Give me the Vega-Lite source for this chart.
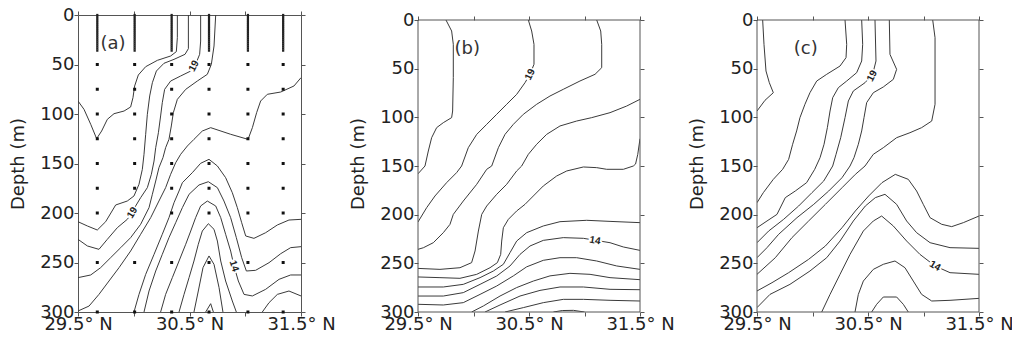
{
"$schema": "https://vega.github.io/schema/vega-lite/v6.json",
"padding": {"left": 9, "top": 5, "right": 2, "bottom": 2},
"spacing": 13,
"config": {
 "view": {"stroke": "#555", "strokeWidth": 1},
 "axis": {"domain": false, "grid": false, "tickColor": "#555", "labelColor": "#222", "titleColor": "#222", "labelFont": "DejaVu Sans", "titleFont": "DejaVu Sans", "labelFontSize": 18, "titleFontSize": 18, "titleFontWeight": "normal"}
},
"datasets": {
 "lines": [
  {"p":"a","i":1,"o":1,"x":29.5,"d":86.9},{"p":"a","i":1,"o":2,"x":29.554,"d":95.3},{"p":"a","i":1,"o":3,"x":29.614,"d":110.4},{"p":"a","i":1,"o":4,"x":29.667,"d":124.9},{"p":"a","i":1,"o":5,"x":29.712,"d":117.2},{"p":"a","i":1,"o":6,"x":29.763,"d":105.4},{"p":"a","i":1,"o":7,"x":29.823,"d":99.7},{"p":"a","i":1,"o":8,"x":29.913,"d":97},{"p":"a","i":1,"o":9,"x":29.972,"d":92.9},{"p":"a","i":1,"o":10,"x":29.993,"d":83.5},{"p":"a","i":1,"o":11,"x":30.008,"d":71.7},{"p":"a","i":1,"o":12,"x":30.041,"d":60.6},{"p":"a","i":1,"o":13,"x":30.107,"d":52.2},{"p":"a","i":1,"o":14,"x":30.212,"d":45.8},{"p":"a","i":1,"o":15,"x":30.331,"d":41.4},{"p":"a","i":1,"o":16,"x":30.382,"d":37},{"p":"a","i":1,"o":17,"x":30.391,"d":22.9},{"p":"a","i":1,"o":18,"x":30.391,"d":0},
  {"p":"a","i":2,"o":1,"x":29.5,"d":208.8},{"p":"a","i":2,"o":2,"x":29.584,"d":213.1},{"p":"a","i":2,"o":3,"x":29.673,"d":217.2},{"p":"a","i":2,"o":4,"x":29.748,"d":208.8},{"p":"a","i":2,"o":5,"x":29.838,"d":191.9},{"p":"a","i":2,"o":6,"x":29.942,"d":187.9},{"p":"a","i":2,"o":7,"x":30.002,"d":182.8},{"p":"a","i":2,"o":8,"x":30.047,"d":171},{"p":"a","i":2,"o":9,"x":30.077,"d":155.9},{"p":"a","i":2,"o":10,"x":30.092,"d":140.7},{"p":"a","i":2,"o":11,"x":30.107,"d":120.5},{"p":"a","i":2,"o":12,"x":30.122,"d":100.3},{"p":"a","i":2,"o":13,"x":30.143,"d":81.8},{"p":"a","i":2,"o":14,"x":30.167,"d":68.4},{"p":"a","i":2,"o":15,"x":30.203,"d":56.6},{"p":"a","i":2,"o":16,"x":30.271,"d":48.8},{"p":"a","i":2,"o":17,"x":30.361,"d":44.8},{"p":"a","i":2,"o":18,"x":30.46,"d":39.7},{"p":"a","i":2,"o":19,"x":30.49,"d":34},{"p":"a","i":2,"o":20,"x":30.49,"d":0},
  {"p":"a","i":3,"o":1,"x":29.5,"d":226.6},{"p":"a","i":3,"o":2,"x":29.584,"d":233.3},{"p":"a","i":3,"o":3,"x":29.688,"d":236.7},{"p":"a","i":3,"o":4,"x":29.763,"d":226.6},{"p":"a","i":3,"o":5,"x":29.853,"d":214.8},{"p":"a","i":3,"o":6,"x":29.942,"d":206.4},{"p":"a","i":3,"o":7,"x":29.987,"d":199.7},{"p":"a","i":3,"o":8,"x":30.017,"d":192.9},{"p":"a","i":3,"o":9,"x":30.062,"d":184.5},{"p":"a","i":3,"o":10,"x":30.122,"d":174.4},{"p":"a","i":3,"o":11,"x":30.158,"d":160.9},{"p":"a","i":3,"o":12,"x":30.182,"d":147.5},{"p":"a","i":3,"o":13,"x":30.197,"d":134},{"p":"a","i":3,"o":14,"x":30.221,"d":118.9},{"p":"a","i":3,"o":15,"x":30.241,"d":102},{"p":"a","i":3,"o":16,"x":30.256,"d":88.6},{"p":"a","i":3,"o":17,"x":30.277,"d":75.1},{"p":"a","i":3,"o":18,"x":30.331,"d":66.7},{"p":"a","i":3,"o":19,"x":30.421,"d":61.6},{"p":"a","i":3,"o":20,"x":30.511,"d":56.6},{"p":"a","i":3,"o":21,"x":30.555,"d":49.8},{"p":"a","i":3,"o":22,"x":30.591,"d":39.7},{"p":"a","i":3,"o":23,"x":30.6,"d":26.3},{"p":"a","i":3,"o":24,"x":30.6,"d":0},
  {"p":"a","i":4,"o":1,"x":29.5,"d":265.3},{"p":"a","i":4,"o":2,"x":29.614,"d":262.6},{"p":"a","i":4,"o":3,"x":29.703,"d":255.2},{"p":"a","i":4,"o":4,"x":29.793,"d":245.1},{"p":"a","i":4,"o":5,"x":29.883,"d":235},{"p":"a","i":4,"o":6,"x":29.972,"d":224.9},{"p":"a","i":4,"o":7,"x":30.062,"d":211.4},{"p":"a","i":4,"o":8,"x":30.137,"d":194.6},{"p":"a","i":4,"o":9,"x":30.167,"d":181.1},{"p":"a","i":4,"o":10,"x":30.197,"d":167.7},{"p":"a","i":4,"o":11,"x":30.226,"d":154.2},{"p":"a","i":4,"o":12,"x":30.262,"d":144.1},{"p":"a","i":4,"o":13,"x":30.286,"d":134},{"p":"a","i":4,"o":14,"x":30.316,"d":125.6},{"p":"a","i":4,"o":15,"x":30.337,"d":112.1},{"p":"a","i":4,"o":16,"x":30.355,"d":98.7},{"p":"a","i":4,"o":17,"x":30.391,"d":85.2},{"p":"a","i":4,"o":18,"x":30.466,"d":75.1},{"p":"a","i":4,"o":19,"x":30.57,"d":66.7},{"p":"a","i":4,"o":20,"x":30.66,"d":59.9},{"p":"a","i":4,"o":21,"x":30.696,"d":49.8},{"p":"a","i":4,"o":22,"x":30.72,"d":31.3},{"p":"a","i":4,"o":23,"x":30.735,"d":0},
  {"p":"a","i":5,"o":1,"x":31.5,"d":63.3},{"p":"a","i":5,"o":2,"x":31.437,"d":71.7},{"p":"a","i":5,"o":3,"x":31.318,"d":77.8},{"p":"a","i":5,"o":4,"x":31.198,"d":80.1},{"p":"a","i":5,"o":5,"x":31.138,"d":86.9},{"p":"a","i":5,"o":6,"x":31.102,"d":98.7},{"p":"a","i":5,"o":7,"x":31.064,"d":113.8},{"p":"a","i":5,"o":8,"x":31.025,"d":125.6},{"p":"a","i":5,"o":9,"x":30.869,"d":120.5},{"p":"a","i":5,"o":10,"x":30.69,"d":113.8},{"p":"a","i":5,"o":11,"x":30.615,"d":117.2},{"p":"a","i":5,"o":12,"x":30.54,"d":125.6},{"p":"a","i":5,"o":13,"x":30.481,"d":132.3},{"p":"a","i":5,"o":14,"x":30.421,"d":140.7},{"p":"a","i":5,"o":15,"x":30.376,"d":149.2},{"p":"a","i":5,"o":16,"x":30.331,"d":160.9},{"p":"a","i":5,"o":17,"x":30.286,"d":174.4},{"p":"a","i":5,"o":18,"x":30.226,"d":187.9},{"p":"a","i":5,"o":19,"x":30.152,"d":204.7},{"p":"a","i":5,"o":20,"x":30.062,"d":221.5},{"p":"a","i":5,"o":21,"x":29.972,"d":238.4},{"p":"a","i":5,"o":22,"x":29.868,"d":255.2},{"p":"a","i":5,"o":23,"x":29.778,"d":268.7},{"p":"a","i":5,"o":24,"x":29.688,"d":282.2},{"p":"a","i":5,"o":25,"x":29.599,"d":294},{"p":"a","i":5,"o":26,"x":29.5,"d":299},
  {"p":"a","i":6,"o":1,"x":30.002,"d":300},{"p":"a","i":6,"o":2,"x":30.047,"d":282.2},{"p":"a","i":6,"o":3,"x":30.107,"d":262},{"p":"a","i":6,"o":4,"x":30.182,"d":241.8},{"p":"a","i":6,"o":5,"x":30.256,"d":221.5},{"p":"a","i":6,"o":6,"x":30.316,"d":204.7},{"p":"a","i":6,"o":7,"x":30.361,"d":189.6},{"p":"a","i":6,"o":8,"x":30.406,"d":177.8},{"p":"a","i":6,"o":9,"x":30.436,"d":169.4},{"p":"a","i":6,"o":10,"x":30.525,"d":159.3},{"p":"a","i":6,"o":11,"x":30.6,"d":149.8},{"p":"a","i":6,"o":12,"x":30.675,"d":145.8},{"p":"a","i":6,"o":13,"x":30.75,"d":152.5},{"p":"a","i":6,"o":14,"x":30.824,"d":164.3},{"p":"a","i":6,"o":15,"x":30.884,"d":179.5},{"p":"a","i":6,"o":16,"x":30.929,"d":194.6},{"p":"a","i":6,"o":17,"x":30.968,"d":209.8},{"p":"a","i":6,"o":18,"x":31.004,"d":223.2},{"p":"a","i":6,"o":19,"x":31.078,"d":225.6},{"p":"a","i":6,"o":20,"x":31.183,"d":219.9},{"p":"a","i":6,"o":21,"x":31.288,"d":212.1},{"p":"a","i":6,"o":22,"x":31.392,"d":207.1},{"p":"a","i":6,"o":23,"x":31.5,"d":206.4},
  {"p":"a","i":7,"o":1,"x":30.092,"d":300},{"p":"a","i":7,"o":2,"x":30.137,"d":278.8},{"p":"a","i":7,"o":3,"x":30.197,"d":258.6},{"p":"a","i":7,"o":4,"x":30.256,"d":241.8},{"p":"a","i":7,"o":5,"x":30.316,"d":224.9},{"p":"a","i":7,"o":6,"x":30.376,"d":209.8},{"p":"a","i":7,"o":7,"x":30.436,"d":194.6},{"p":"a","i":7,"o":8,"x":30.496,"d":181.1},{"p":"a","i":7,"o":9,"x":30.585,"d":171.7},{"p":"a","i":7,"o":10,"x":30.669,"d":168.4},{"p":"a","i":7,"o":11,"x":30.75,"d":174.4},{"p":"a","i":7,"o":12,"x":30.809,"d":187.9},{"p":"a","i":7,"o":13,"x":30.869,"d":204.7},{"p":"a","i":7,"o":14,"x":30.92,"d":224.9},{"p":"a","i":7,"o":15,"x":30.968,"d":245.1},{"p":"a","i":7,"o":16,"x":31.01,"d":258.6},{"p":"a","i":7,"o":17,"x":31.093,"d":257.9},{"p":"a","i":7,"o":18,"x":31.213,"d":250.2},{"p":"a","i":7,"o":19,"x":31.318,"d":241.1},{"p":"a","i":7,"o":20,"x":31.407,"d":235},{"p":"a","i":7,"o":21,"x":31.5,"d":234},
  {"p":"a","i":8,"o":1,"x":30.241,"d":300},{"p":"a","i":8,"o":2,"x":30.286,"d":282.2},{"p":"a","i":8,"o":3,"x":30.346,"d":265.3},{"p":"a","i":8,"o":4,"x":30.406,"d":248.5},{"p":"a","i":8,"o":5,"x":30.466,"d":231.6},{"p":"a","i":8,"o":6,"x":30.511,"d":218.2},{"p":"a","i":8,"o":7,"x":30.555,"d":204.7},{"p":"a","i":8,"o":8,"x":30.6,"d":192.9},{"p":"a","i":8,"o":9,"x":30.66,"d":187.9},{"p":"a","i":8,"o":10,"x":30.735,"d":192.9},{"p":"a","i":8,"o":11,"x":30.78,"d":204.7},{"p":"a","i":8,"o":12,"x":30.824,"d":221.5},{"p":"a","i":8,"o":13,"x":30.869,"d":238.4},{"p":"a","i":8,"o":14,"x":30.899,"d":253.5},{"p":"a","i":8,"o":15,"x":30.938,"d":268.7},{"p":"a","i":8,"o":16,"x":30.989,"d":282.2},{"p":"a","i":8,"o":17,"x":31.064,"d":283.8},{"p":"a","i":8,"o":18,"x":31.183,"d":277.1},{"p":"a","i":8,"o":19,"x":31.303,"d":267},{"p":"a","i":8,"o":20,"x":31.407,"d":262.6},{"p":"a","i":8,"o":21,"x":31.5,"d":262.6},
  {"p":"a","i":9,"o":1,"x":30.406,"d":300},{"p":"a","i":9,"o":2,"x":30.451,"d":282.2},{"p":"a","i":9,"o":3,"x":30.496,"d":265.3},{"p":"a","i":9,"o":4,"x":30.54,"d":248.5},{"p":"a","i":9,"o":5,"x":30.579,"d":231.6},{"p":"a","i":9,"o":6,"x":30.615,"d":218.2},{"p":"a","i":9,"o":7,"x":30.669,"d":210.8},{"p":"a","i":9,"o":8,"x":30.72,"d":216.5},{"p":"a","i":9,"o":9,"x":30.75,"d":228.3},{"p":"a","i":9,"o":10,"x":30.78,"d":248.5},{"p":"a","i":9,"o":11,"x":30.824,"d":268.7},{"p":"a","i":9,"o":12,"x":30.884,"d":288.9},{"p":"a","i":9,"o":13,"x":30.92,"d":300},
  {"p":"a","i":10,"o":1,"x":30.54,"d":300},{"p":"a","i":10,"o":2,"x":30.579,"d":278.8},{"p":"a","i":10,"o":3,"x":30.621,"d":255.2},{"p":"a","i":10,"o":4,"x":30.675,"d":243.4},{"p":"a","i":10,"o":5,"x":30.72,"d":251.9},{"p":"a","i":10,"o":6,"x":30.765,"d":275.4},{"p":"a","i":10,"o":7,"x":30.8,"d":300},
  {"p":"a","i":11,"o":1,"x":30.645,"d":300},{"p":"a","i":11,"o":2,"x":30.69,"d":291.6},{"p":"a","i":11,"o":3,"x":30.714,"d":300},
  {"p":"a","i":12,"o":1,"x":31.153,"d":300},{"p":"a","i":12,"o":2,"x":31.213,"d":290.6},{"p":"a","i":12,"o":3,"x":31.288,"d":282.2},{"p":"a","i":12,"o":4,"x":31.392,"d":278.8},{"p":"a","i":12,"o":5,"x":31.5,"d":283.8},

  {"p":"b","i":1,"o":1,"x":29.752,"d":0},{"p":"b","i":1,"o":2,"x":29.803,"d":11.3},{"p":"b","i":1,"o":3,"x":29.818,"d":25},{"p":"b","i":1,"o":4,"x":29.818,"d":59.2},{"p":"b","i":1,"o":5,"x":29.812,"d":93.5},{"p":"b","i":1,"o":6,"x":29.803,"d":100.3},{"p":"b","i":1,"o":7,"x":29.728,"d":105.5},{"p":"b","i":1,"o":8,"x":29.668,"d":110.6},{"p":"b","i":1,"o":9,"x":29.623,"d":120.9},{"p":"b","i":1,"o":10,"x":29.593,"d":134.6},{"p":"b","i":1,"o":11,"x":29.563,"d":150},{"p":"b","i":1,"o":12,"x":29.5,"d":158},
  {"p":"b","i":2,"o":1,"x":30.494,"d":0},{"p":"b","i":2,"o":2,"x":30.524,"d":11.3},{"p":"b","i":2,"o":3,"x":30.545,"d":25},{"p":"b","i":2,"o":4,"x":30.545,"d":45.5},{"p":"b","i":2,"o":5,"x":30.509,"d":55.8},{"p":"b","i":2,"o":6,"x":30.464,"d":64.4},{"p":"b","i":2,"o":7,"x":30.389,"d":76.4},{"p":"b","i":2,"o":8,"x":30.299,"d":86.6},{"p":"b","i":2,"o":9,"x":30.209,"d":96.9},{"p":"b","i":2,"o":10,"x":30.119,"d":107.2},{"p":"b","i":2,"o":11,"x":30.029,"d":117.5},{"p":"b","i":2,"o":12,"x":29.953,"d":131.2},{"p":"b","i":2,"o":13,"x":29.893,"d":150},{"p":"b","i":2,"o":14,"x":29.848,"d":156.8},{"p":"b","i":2,"o":15,"x":29.758,"d":167.1},{"p":"b","i":2,"o":16,"x":29.653,"d":180.8},{"p":"b","i":2,"o":17,"x":29.578,"d":192.8},{"p":"b","i":2,"o":18,"x":29.5,"d":207.5},
  {"p":"b","i":3,"o":1,"x":31.11,"d":0},{"p":"b","i":3,"o":2,"x":31.146,"d":11.3},{"p":"b","i":3,"o":3,"x":31.155,"d":25},{"p":"b","i":3,"o":4,"x":31.155,"d":49},{"p":"b","i":3,"o":5,"x":31.095,"d":55.8},{"p":"b","i":3,"o":6,"x":30.959,"d":62.7},{"p":"b","i":3,"o":7,"x":30.809,"d":71.2},{"p":"b","i":3,"o":8,"x":30.689,"d":78.1},{"p":"b","i":3,"o":9,"x":30.569,"d":86.6},{"p":"b","i":3,"o":10,"x":30.449,"d":96.9},{"p":"b","i":3,"o":11,"x":30.359,"d":107.2},{"p":"b","i":3,"o":12,"x":30.284,"d":117.5},{"p":"b","i":3,"o":13,"x":30.224,"d":131.2},{"p":"b","i":3,"o":14,"x":30.164,"d":150},{"p":"b","i":3,"o":15,"x":30.119,"d":153.4},{"p":"b","i":3,"o":16,"x":30.029,"d":168.8},{"p":"b","i":3,"o":17,"x":29.908,"d":186},{"p":"b","i":3,"o":18,"x":29.818,"d":199.7},{"p":"b","i":3,"o":19,"x":29.788,"d":210},{"p":"b","i":3,"o":20,"x":29.728,"d":218.5},{"p":"b","i":3,"o":21,"x":29.638,"d":228.8},{"p":"b","i":3,"o":22,"x":29.548,"d":234},{"p":"b","i":3,"o":23,"x":29.5,"d":235.6},
  {"p":"b","i":4,"o":1,"x":31.5,"d":81.5},{"p":"b","i":4,"o":2,"x":31.38,"d":88.4},{"p":"b","i":4,"o":3,"x":31.23,"d":95.2},{"p":"b","i":4,"o":4,"x":31.065,"d":100.3},{"p":"b","i":4,"o":5,"x":30.929,"d":103.8},{"p":"b","i":4,"o":6,"x":30.779,"d":108.9},{"p":"b","i":4,"o":7,"x":30.659,"d":117.5},{"p":"b","i":4,"o":8,"x":30.569,"d":127.7},{"p":"b","i":4,"o":9,"x":30.494,"d":138},{"p":"b","i":4,"o":10,"x":30.434,"d":150},{"p":"b","i":4,"o":11,"x":30.389,"d":155.1},{"p":"b","i":4,"o":12,"x":30.299,"d":168.8},{"p":"b","i":4,"o":13,"x":30.209,"d":179.1},{"p":"b","i":4,"o":14,"x":30.119,"d":191.1},{"p":"b","i":4,"o":15,"x":30.074,"d":199.7},{"p":"b","i":4,"o":16,"x":30.044,"d":216.8},{"p":"b","i":4,"o":17,"x":30.014,"d":237.3},{"p":"b","i":4,"o":18,"x":29.983,"d":249.3},{"p":"b","i":4,"o":19,"x":29.878,"d":254.5},{"p":"b","i":4,"o":20,"x":29.698,"d":256.2},{"p":"b","i":4,"o":21,"x":29.5,"d":255.2},
  {"p":"b","i":5,"o":1,"x":31.5,"d":122},{"p":"b","i":5,"o":2,"x":31.48,"d":138},{"p":"b","i":5,"o":3,"x":31.46,"d":148},{"p":"b","i":5,"o":4,"x":31.44,"d":150},{"p":"b","i":5,"o":5,"x":31.35,"d":153.4},{"p":"b","i":5,"o":6,"x":31.2,"d":153.4},{"p":"b","i":5,"o":7,"x":31.11,"d":151.7},{"p":"b","i":5,"o":8,"x":30.99,"d":151},{"p":"b","i":5,"o":9,"x":30.84,"d":155.1},{"p":"b","i":5,"o":10,"x":30.749,"d":160.3},{"p":"b","i":5,"o":11,"x":30.629,"d":170.5},{"p":"b","i":5,"o":12,"x":30.539,"d":180.8},{"p":"b","i":5,"o":13,"x":30.464,"d":189.4},{"p":"b","i":5,"o":14,"x":30.389,"d":196.2},{"p":"b","i":5,"o":15,"x":30.314,"d":204.8},{"p":"b","i":5,"o":16,"x":30.269,"d":213.4},{"p":"b","i":5,"o":17,"x":30.254,"d":227.1},{"p":"b","i":5,"o":18,"x":30.245,"d":240.8},{"p":"b","i":5,"o":19,"x":30.215,"d":249.3},{"p":"b","i":5,"o":20,"x":30.149,"d":254.5},{"p":"b","i":5,"o":21,"x":30.029,"d":261.3},{"p":"b","i":5,"o":22,"x":29.878,"d":265.4},{"p":"b","i":5,"o":23,"x":29.698,"d":264.7},{"p":"b","i":5,"o":24,"x":29.5,"d":264},
  {"p":"b","i":6,"o":1,"x":29.5,"d":274.3},{"p":"b","i":6,"o":2,"x":29.728,"d":274.3},{"p":"b","i":6,"o":3,"x":29.908,"d":271.6},{"p":"b","i":6,"o":4,"x":30.059,"d":264.7},{"p":"b","i":6,"o":5,"x":30.179,"d":257.9},{"p":"b","i":6,"o":6,"x":30.269,"d":251},{"p":"b","i":6,"o":7,"x":30.329,"d":239},{"p":"b","i":6,"o":8,"x":30.389,"d":227.1},{"p":"b","i":6,"o":9,"x":30.479,"d":218.5},{"p":"b","i":6,"o":10,"x":30.629,"d":211.6},{"p":"b","i":6,"o":11,"x":30.779,"d":207.2},{"p":"b","i":6,"o":12,"x":31.02,"d":205.8},{"p":"b","i":6,"o":13,"x":31.23,"d":206.9},{"p":"b","i":6,"o":14,"x":31.5,"d":208.2},
  {"p":"b","i":7,"o":1,"x":29.5,"d":283.6},{"p":"b","i":7,"o":2,"x":29.728,"d":283.6},{"p":"b","i":7,"o":3,"x":29.908,"d":280.1},{"p":"b","i":7,"o":4,"x":30.059,"d":271.6},{"p":"b","i":7,"o":5,"x":30.209,"d":263},{"p":"b","i":7,"o":6,"x":30.329,"d":252.7},{"p":"b","i":7,"o":7,"x":30.419,"d":240.8},{"p":"b","i":7,"o":8,"x":30.509,"d":232.2},{"p":"b","i":7,"o":9,"x":30.629,"d":226.4},{"p":"b","i":7,"o":10,"x":30.809,"d":223.6},{"p":"b","i":7,"o":11,"x":30.99,"d":224.3},{"p":"b","i":7,"o":12,"x":31.23,"d":228.8},{"p":"b","i":7,"o":13,"x":31.35,"d":233.2},{"p":"b","i":7,"o":14,"x":31.5,"d":236.7},
  {"p":"b","i":8,"o":1,"x":29.5,"d":292.1},{"p":"b","i":8,"o":2,"x":29.728,"d":292.8},{"p":"b","i":8,"o":3,"x":29.908,"d":290.4},{"p":"b","i":8,"o":4,"x":30.059,"d":281.9},{"p":"b","i":8,"o":5,"x":30.209,"d":273.3},{"p":"b","i":8,"o":6,"x":30.359,"d":262.9},{"p":"b","i":8,"o":7,"x":30.479,"d":253.6},{"p":"b","i":8,"o":8,"x":30.629,"d":246.9},{"p":"b","i":8,"o":9,"x":30.779,"d":244.2},{"p":"b","i":8,"o":10,"x":30.929,"d":244.2},{"p":"b","i":8,"o":11,"x":31.11,"d":247.6},{"p":"b","i":8,"o":12,"x":31.29,"d":252.7},{"p":"b","i":8,"o":13,"x":31.5,"d":256.2},
  {"p":"b","i":9,"o":1,"x":29.983,"d":300},{"p":"b","i":9,"o":2,"x":30.089,"d":293.8},{"p":"b","i":9,"o":3,"x":30.239,"d":283.6},{"p":"b","i":9,"o":4,"x":30.389,"d":274.9},{"p":"b","i":9,"o":5,"x":30.539,"d":268.2},{"p":"b","i":9,"o":6,"x":30.689,"d":262.9},{"p":"b","i":9,"o":7,"x":30.869,"d":260.3},{"p":"b","i":9,"o":8,"x":31.05,"d":261.3},{"p":"b","i":9,"o":9,"x":31.23,"d":264.7},{"p":"b","i":9,"o":10,"x":31.5,"d":266.8},
  {"p":"b","i":10,"o":1,"x":30.104,"d":300},{"p":"b","i":10,"o":2,"x":30.239,"d":292.8},{"p":"b","i":10,"o":3,"x":30.419,"d":283.6},{"p":"b","i":10,"o":4,"x":30.599,"d":277.8},{"p":"b","i":10,"o":5,"x":30.779,"d":274.3},{"p":"b","i":10,"o":6,"x":30.99,"d":274.3},{"p":"b","i":10,"o":7,"x":31.23,"d":276.7},{"p":"b","i":10,"o":8,"x":31.5,"d":277.1},
  {"p":"b","i":11,"o":1,"x":30.284,"d":300},{"p":"b","i":11,"o":2,"x":30.449,"d":295.5},{"p":"b","i":11,"o":3,"x":30.629,"d":290.4},{"p":"b","i":11,"o":4,"x":30.809,"d":287},{"p":"b","i":11,"o":5,"x":30.99,"d":287},{"p":"b","i":11,"o":6,"x":31.23,"d":288},{"p":"b","i":11,"o":7,"x":31.5,"d":288.7},
  {"p":"b","i":12,"o":1,"x":30.72,"d":300},{"p":"b","i":12,"o":2,"x":30.8,"d":298.5},{"p":"b","i":12,"o":3,"x":30.9,"d":298.3},{"p":"b","i":12,"o":4,"x":31.0,"d":300},

  {"p":"c","i":1,"o":1,"x":29.551,"d":0},{"p":"c","i":1,"o":2,"x":29.563,"d":25},{"p":"c","i":1,"o":3,"x":29.581,"d":52.4},{"p":"c","i":1,"o":4,"x":29.611,"d":64.4},{"p":"c","i":1,"o":5,"x":29.647,"d":74.7},{"p":"c","i":1,"o":6,"x":29.572,"d":82.5},{"p":"c","i":1,"o":7,"x":29.5,"d":93.5},
  {"p":"c","i":2,"o":1,"x":30.293,"d":0},{"p":"c","i":2,"o":2,"x":30.308,"d":25},{"p":"c","i":2,"o":3,"x":30.302,"d":38.7},{"p":"c","i":2,"o":4,"x":30.248,"d":47.3},{"p":"c","i":2,"o":5,"x":30.128,"d":55.8},{"p":"c","i":2,"o":6,"x":30.038,"d":62.7},{"p":"c","i":2,"o":7,"x":29.977,"d":74.7},{"p":"c","i":2,"o":8,"x":29.932,"d":86.6},{"p":"c","i":2,"o":9,"x":29.887,"d":100.3},{"p":"c","i":2,"o":10,"x":29.857,"d":114},{"p":"c","i":2,"o":11,"x":29.821,"d":127.7},{"p":"c","i":2,"o":12,"x":29.785,"d":143.2},{"p":"c","i":2,"o":13,"x":29.731,"d":153.4},{"p":"c","i":2,"o":14,"x":29.647,"d":163.7},{"p":"c","i":2,"o":15,"x":29.557,"d":177.4},{"p":"c","i":2,"o":16,"x":29.5,"d":187.7},
  {"p":"c","i":3,"o":1,"x":30.443,"d":0},{"p":"c","i":3,"o":2,"x":30.452,"d":25},{"p":"c","i":3,"o":3,"x":30.443,"d":42.1},{"p":"c","i":3,"o":4,"x":30.398,"d":54.1},{"p":"c","i":3,"o":5,"x":30.308,"d":62.7},{"p":"c","i":3,"o":6,"x":30.233,"d":69.5},{"p":"c","i":3,"o":7,"x":30.182,"d":79.8},{"p":"c","i":3,"o":8,"x":30.158,"d":93.5},{"p":"c","i":3,"o":9,"x":30.134,"d":110.6},{"p":"c","i":3,"o":10,"x":30.104,"d":127.7},{"p":"c","i":3,"o":11,"x":30.068,"d":141.4},{"p":"c","i":3,"o":12,"x":30.02,"d":153.4},{"p":"c","i":3,"o":13,"x":29.947,"d":167.1},{"p":"c","i":3,"o":14,"x":29.845,"d":175.7},{"p":"c","i":3,"o":15,"x":29.755,"d":182.5},{"p":"c","i":3,"o":16,"x":29.68,"d":199.7},{"p":"c","i":3,"o":17,"x":29.59,"d":206.5},{"p":"c","i":3,"o":18,"x":29.5,"d":213.4},
  {"p":"c","i":4,"o":1,"x":30.563,"d":0},{"p":"c","i":4,"o":2,"x":30.572,"d":42.1},{"p":"c","i":4,"o":3,"x":30.542,"d":55.8},{"p":"c","i":4,"o":4,"x":30.473,"d":64.4},{"p":"c","i":4,"o":5,"x":30.368,"d":72.9},{"p":"c","i":4,"o":6,"x":30.323,"d":83.2},{"p":"c","i":4,"o":7,"x":30.293,"d":100.3},{"p":"c","i":4,"o":8,"x":30.254,"d":120.9},{"p":"c","i":4,"o":9,"x":30.212,"d":138},{"p":"c","i":4,"o":10,"x":30.182,"d":150},{"p":"c","i":4,"o":11,"x":30.101,"d":165.4},{"p":"c","i":4,"o":12,"x":29.995,"d":177.4},{"p":"c","i":4,"o":13,"x":29.875,"d":191.1},{"p":"c","i":4,"o":14,"x":29.74,"d":204.8},{"p":"c","i":4,"o":15,"x":29.605,"d":216.8},{"p":"c","i":4,"o":16,"x":29.5,"d":228.8},
  {"p":"c","i":5,"o":1,"x":30.692,"d":0},{"p":"c","i":5,"o":2,"x":30.698,"d":35.3},{"p":"c","i":5,"o":3,"x":30.758,"d":50.7},{"p":"c","i":5,"o":4,"x":30.728,"d":61},{"p":"c","i":5,"o":5,"x":30.638,"d":68.8},{"p":"c","i":5,"o":6,"x":30.548,"d":74.7},{"p":"c","i":5,"o":7,"x":30.488,"d":84.9},{"p":"c","i":5,"o":8,"x":30.464,"d":100.3},{"p":"c","i":5,"o":9,"x":30.443,"d":114},{"p":"c","i":5,"o":10,"x":30.413,"d":127.7},{"p":"c","i":5,"o":11,"x":30.374,"d":141.4},{"p":"c","i":5,"o":12,"x":30.338,"d":150},{"p":"c","i":5,"o":13,"x":30.266,"d":162},{"p":"c","i":5,"o":14,"x":30.146,"d":175.7},{"p":"c","i":5,"o":15,"x":30.011,"d":189.4},{"p":"c","i":5,"o":16,"x":29.86,"d":203.1},{"p":"c","i":5,"o":17,"x":29.695,"d":220.2},{"p":"c","i":5,"o":18,"x":29.59,"d":233.9},{"p":"c","i":5,"o":19,"x":29.5,"d":244.2},
  {"p":"c","i":6,"o":1,"x":31.083,"d":0},{"p":"c","i":6,"o":2,"x":31.104,"d":18.2},{"p":"c","i":6,"o":3,"x":31.104,"d":86.6},{"p":"c","i":6,"o":4,"x":31.074,"d":103.8},{"p":"c","i":6,"o":5,"x":30.983,"d":110.6},{"p":"c","i":6,"o":6,"x":30.878,"d":115.8},{"p":"c","i":6,"o":7,"x":30.758,"d":120.9},{"p":"c","i":6,"o":8,"x":30.638,"d":131.2},{"p":"c","i":6,"o":9,"x":30.548,"d":138},{"p":"c","i":6,"o":10,"x":30.473,"d":150},{"p":"c","i":6,"o":11,"x":30.386,"d":158.6},{"p":"c","i":6,"o":12,"x":30.266,"d":172.3},{"p":"c","i":6,"o":13,"x":30.116,"d":189.4},{"p":"c","i":6,"o":14,"x":29.965,"d":206.5},{"p":"c","i":6,"o":15,"x":29.815,"d":223.6},{"p":"c","i":6,"o":16,"x":29.665,"d":244.2},{"p":"c","i":6,"o":17,"x":29.5,"d":261.3},
  {"p":"c","i":7,"o":1,"x":29.5,"d":278.4},{"p":"c","i":7,"o":2,"x":29.635,"d":269.9},{"p":"c","i":7,"o":3,"x":29.785,"d":259.6},{"p":"c","i":7,"o":4,"x":29.965,"d":245.9},{"p":"c","i":7,"o":5,"x":30.116,"d":232.2},{"p":"c","i":7,"o":6,"x":30.266,"d":213.4},{"p":"c","i":7,"o":7,"x":30.386,"d":196.2},{"p":"c","i":7,"o":8,"x":30.506,"d":180.8},{"p":"c","i":7,"o":9,"x":30.626,"d":167.1},{"p":"c","i":7,"o":10,"x":30.746,"d":158.6},{"p":"c","i":7,"o":11,"x":30.863,"d":163.7},{"p":"c","i":7,"o":12,"x":30.938,"d":175.7},{"p":"c","i":7,"o":13,"x":30.998,"d":189.4},{"p":"c","i":7,"o":14,"x":31.059,"d":203.1},{"p":"c","i":7,"o":15,"x":31.164,"d":209.9},{"p":"c","i":7,"o":16,"x":31.254,"d":212.3},{"p":"c","i":7,"o":17,"x":31.359,"d":208.2},{"p":"c","i":7,"o":18,"x":31.5,"d":201.4},
  {"p":"c","i":8,"o":1,"x":29.5,"d":295.5},{"p":"c","i":8,"o":2,"x":29.617,"d":281.9},{"p":"c","i":8,"o":3,"x":29.797,"d":271.6},{"p":"c","i":8,"o":4,"x":29.977,"d":257.9},{"p":"c","i":8,"o":5,"x":30.128,"d":244.2},{"p":"c","i":8,"o":6,"x":30.248,"d":227.1},{"p":"c","i":8,"o":7,"x":30.368,"d":206.5},{"p":"c","i":8,"o":8,"x":30.476,"d":191.1},{"p":"c","i":8,"o":9,"x":30.566,"d":182.5},{"p":"c","i":8,"o":10,"x":30.653,"d":179.1},{"p":"c","i":8,"o":11,"x":30.758,"d":189.4},{"p":"c","i":8,"o":12,"x":30.848,"d":206.5},{"p":"c","i":8,"o":13,"x":30.938,"d":218.5},{"p":"c","i":8,"o":14,"x":31.059,"d":228.8},{"p":"c","i":8,"o":15,"x":31.239,"d":233.9},{"p":"c","i":8,"o":16,"x":31.5,"d":234.6},
  {"p":"c","i":9,"o":1,"x":30.083,"d":300},{"p":"c","i":9,"o":2,"x":30.158,"d":281.9},{"p":"c","i":9,"o":3,"x":30.248,"d":261.3},{"p":"c","i":9,"o":4,"x":30.338,"d":240.8},{"p":"c","i":9,"o":5,"x":30.458,"d":216.8},{"p":"c","i":9,"o":6,"x":30.548,"d":206.5},{"p":"c","i":9,"o":7,"x":30.623,"d":201.4},{"p":"c","i":9,"o":8,"x":30.728,"d":211.6},{"p":"c","i":9,"o":9,"x":30.848,"d":227.1},{"p":"c","i":9,"o":10,"x":30.968,"d":240.8},{"p":"c","i":9,"o":11,"x":31.104,"d":252.7},{"p":"c","i":9,"o":12,"x":31.239,"d":259.6},{"p":"c","i":9,"o":13,"x":31.5,"d":261.3},
  {"p":"c","i":10,"o":1,"x":30.383,"d":300},{"p":"c","i":10,"o":2,"x":30.413,"d":281.9},{"p":"c","i":10,"o":3,"x":30.458,"d":268.2},{"p":"c","i":10,"o":4,"x":30.548,"d":256.2},{"p":"c","i":10,"o":5,"x":30.638,"d":251},{"p":"c","i":10,"o":6,"x":30.743,"d":247.6},{"p":"c","i":10,"o":7,"x":30.833,"d":254.5},{"p":"c","i":10,"o":8,"x":30.908,"d":268.2},{"p":"c","i":10,"o":9,"x":30.983,"d":281.9},{"p":"c","i":10,"o":10,"x":31.074,"d":288.7},{"p":"c","i":10,"o":11,"x":31.239,"d":288},{"p":"c","i":10,"o":12,"x":31.5,"d":286},
  {"p":"c","i":11,"o":1,"x":30.533,"d":300},{"p":"c","i":11,"o":2,"x":30.578,"d":292.1},{"p":"c","i":11,"o":3,"x":30.638,"d":284.6},{"p":"c","i":11,"o":4,"x":30.758,"d":284.6},{"p":"c","i":11,"o":5,"x":30.818,"d":292.1},{"p":"c","i":11,"o":6,"x":30.863,"d":300}
 ],
 "dots": [
  {"x":29.673,"d":0},{"x":29.673,"d":2},{"x":29.673,"d":4},{"x":29.673,"d":6},{"x":29.673,"d":8},{"x":29.673,"d":10},{"x":29.673,"d":12},{"x":29.673,"d":14},{"x":29.673,"d":16},{"x":29.673,"d":18},{"x":29.673,"d":20},{"x":29.673,"d":22},{"x":29.673,"d":24},{"x":29.673,"d":26},{"x":29.673,"d":28},{"x":29.673,"d":30},{"x":29.673,"d":32},{"x":29.673,"d":34},{"x":29.673,"d":36},{"x":29.673,"d":50},{"x":29.673,"d":75},{"x":29.673,"d":100},{"x":29.673,"d":125},{"x":29.673,"d":150},{"x":29.673,"d":175},{"x":29.673,"d":200},{"x":29.673,"d":250},{"x":29.673,"d":300},
  {"x":30.008,"d":0},{"x":30.008,"d":2},{"x":30.008,"d":4},{"x":30.008,"d":6},{"x":30.008,"d":8},{"x":30.008,"d":10},{"x":30.008,"d":12},{"x":30.008,"d":14},{"x":30.008,"d":16},{"x":30.008,"d":18},{"x":30.008,"d":20},{"x":30.008,"d":22},{"x":30.008,"d":24},{"x":30.008,"d":26},{"x":30.008,"d":28},{"x":30.008,"d":30},{"x":30.008,"d":32},{"x":30.008,"d":34},{"x":30.008,"d":36},{"x":30.008,"d":50},{"x":30.008,"d":75},{"x":30.008,"d":100},{"x":30.008,"d":125},{"x":30.008,"d":150},{"x":30.008,"d":175},{"x":30.008,"d":200},{"x":30.008,"d":250},{"x":30.008,"d":300},
  {"x":30.34,"d":0},{"x":30.34,"d":2},{"x":30.34,"d":4},{"x":30.34,"d":6},{"x":30.34,"d":8},{"x":30.34,"d":10},{"x":30.34,"d":12},{"x":30.34,"d":14},{"x":30.34,"d":16},{"x":30.34,"d":18},{"x":30.34,"d":20},{"x":30.34,"d":22},{"x":30.34,"d":24},{"x":30.34,"d":26},{"x":30.34,"d":28},{"x":30.34,"d":30},{"x":30.34,"d":32},{"x":30.34,"d":34},{"x":30.34,"d":36},{"x":30.34,"d":50},{"x":30.34,"d":75},{"x":30.34,"d":100},{"x":30.34,"d":125},{"x":30.34,"d":150},{"x":30.34,"d":175},{"x":30.34,"d":200},{"x":30.34,"d":250},{"x":30.34,"d":300},
  {"x":30.675,"d":0},{"x":30.675,"d":2},{"x":30.675,"d":4},{"x":30.675,"d":6},{"x":30.675,"d":8},{"x":30.675,"d":10},{"x":30.675,"d":12},{"x":30.675,"d":14},{"x":30.675,"d":16},{"x":30.675,"d":18},{"x":30.675,"d":20},{"x":30.675,"d":22},{"x":30.675,"d":24},{"x":30.675,"d":26},{"x":30.675,"d":28},{"x":30.675,"d":30},{"x":30.675,"d":32},{"x":30.675,"d":34},{"x":30.675,"d":36},{"x":30.675,"d":50},{"x":30.675,"d":75},{"x":30.675,"d":100},{"x":30.675,"d":125},{"x":30.675,"d":150},{"x":30.675,"d":175},{"x":30.675,"d":200},{"x":30.675,"d":250},{"x":30.675,"d":300},
  {"x":31.024,"d":0},{"x":31.024,"d":2},{"x":31.024,"d":4},{"x":31.024,"d":6},{"x":31.024,"d":8},{"x":31.024,"d":10},{"x":31.024,"d":12},{"x":31.024,"d":14},{"x":31.024,"d":16},{"x":31.024,"d":18},{"x":31.024,"d":20},{"x":31.024,"d":22},{"x":31.024,"d":24},{"x":31.024,"d":26},{"x":31.024,"d":28},{"x":31.024,"d":30},{"x":31.024,"d":32},{"x":31.024,"d":34},{"x":31.024,"d":36},{"x":31.024,"d":50},{"x":31.024,"d":75},{"x":31.024,"d":100},{"x":31.024,"d":125},{"x":31.024,"d":150},{"x":31.024,"d":175},{"x":31.024,"d":200},{"x":31.024,"d":250},{"x":31.024,"d":300},
  {"x":31.34,"d":0},{"x":31.34,"d":2},{"x":31.34,"d":4},{"x":31.34,"d":6},{"x":31.34,"d":8},{"x":31.34,"d":10},{"x":31.34,"d":12},{"x":31.34,"d":14},{"x":31.34,"d":16},{"x":31.34,"d":18},{"x":31.34,"d":20},{"x":31.34,"d":22},{"x":31.34,"d":24},{"x":31.34,"d":26},{"x":31.34,"d":28},{"x":31.34,"d":30},{"x":31.34,"d":32},{"x":31.34,"d":34},{"x":31.34,"d":36},{"x":31.34,"d":50},{"x":31.34,"d":75},{"x":31.34,"d":100},{"x":31.34,"d":125},{"x":31.34,"d":150},{"x":31.34,"d":175},{"x":31.34,"d":200},{"x":31.34,"d":250},{"x":31.34,"d":300}
 ],
 "labels": [
  {"p":"a","t":"19","x":30.54,"d":51.5,"r":-62},{"p":"a","t":"19","x":29.987,"d":199.7,"r":-58},{"p":"a","t":"14","x":30.899,"d":253.5,"r":72},
  {"p":"b","t":"19","x":30.509,"d":55.8,"r":-64},{"p":"b","t":"14","x":31.095,"d":226.5,"r":10},
  {"p":"c","t":"19","x":30.536,"d":57.5,"r":-63},{"p":"c","t":"14","x":31.104,"d":252.7,"r":30}
 ],
 "names": [
  {"p":"a","t":"(a)","x":29.814,"d":29.6},{"p":"b","t":"(b)","x":29.944,"d":30.1},{"p":"c","t":"(c)","x":29.939,"d":30.1}
 ]
},
"hconcat": [
 {
  "width": 223, "height": 297,
  "layer": [
   {"data": {"name": "lines"}, "transform": [{"filter": "datum.p === 'a'"}],
    "mark": {"type": "line", "color": "#3a3a3a", "strokeWidth": 1, "clip": true},
    "encoding": {
     "x": {"field": "x", "type": "quantitative", "scale": {"domain": [29.5, 31.5], "nice": false, "zero": false}, "axis": {"orient": "bottom", "values": [29.5, 30, 30.5, 31, 31.5], "labelExpr": "datum.value == 29.5 || datum.value == 30.5 || datum.value == 31.5 ? format(datum.value, '.1f') + '° N' : ''", "labelFlush": false, "title": null, "tickSize": 4, "labelPadding": -1}},
     "y": {"field": "d", "type": "quantitative", "scale": {"domain": [0, 300], "reverse": true, "nice": false, "zero": false}, "axis": {"orient": "left", "values": [0, 50, 100, 150, 200, 250, 300], "title": "Depth (m)", "titlePadding": 12, "tickSize": 4, "labelPadding": 0}},
     "detail": {"field": "i", "type": "nominal"},
     "order": {"field": "o", "type": "quantitative"}
    }},
   {"data": {"name": "dots"}, "transform": [{"filter": "datum.d < 40"}],
    "mark": {"type": "square", "color": "#222", "size": 5, "opacity": 1},
    "encoding": {"x": {"field": "x", "type": "quantitative", "axis": null}, "y": {"field": "d", "type": "quantitative", "axis": null}}},
   {"data": {"name": "dots"}, "transform": [{"filter": "datum.d >= 40"}],
    "mark": {"type": "square", "color": "#111", "size": 9, "opacity": 1},
    "encoding": {"x": {"field": "x", "type": "quantitative", "axis": null}, "y": {"field": "d", "type": "quantitative", "axis": null}}},
   {"data": {"name": "labels"}, "transform": [{"filter": "datum.p === 'a'"}],
    "mark": {"type": "text", "font": "Liberation Sans", "fontSize": 10, "fontWeight": "bold", "fill": "white", "stroke": "white", "strokeWidth": 3},
    "encoding": {"x": {"field": "x", "type": "quantitative", "axis": null}, "y": {"field": "d", "type": "quantitative", "axis": null}, "text": {"field": "t"}, "angle": {"field": "r", "type": "quantitative", "scale": null}}},
   {"data": {"name": "labels"}, "transform": [{"filter": "datum.p === 'a'"}],
    "mark": {"type": "text", "font": "Liberation Sans", "fontSize": 10, "fontWeight": "bold", "fill": "#222"},
    "encoding": {"x": {"field": "x", "type": "quantitative", "axis": null}, "y": {"field": "d", "type": "quantitative", "axis": null}, "text": {"field": "t"}, "angle": {"field": "r", "type": "quantitative", "scale": null}}},
   {"data": {"name": "names"}, "transform": [{"filter": "datum.p === 'a'"}],
    "mark": {"type": "text", "font": "DejaVu Sans", "fontSize": 18, "fill": "#333"},
    "encoding": {
     "x": {"field": "x", "type": "quantitative", "axis": {"orient": "top", "values": [29.5, 30, 30.5, 31, 31.5], "labels": false, "title": null, "tickSize": 4}},
     "y": {"field": "d", "type": "quantitative", "axis": {"orient": "right", "values": [0, 50, 100, 150, 200, 250, 300], "labels": false, "title": null, "tickSize": 4}},
     "text": {"field": "t"}}}
  ],
  "resolve": {"axis": {"x": "independent", "y": "independent"}}
 },
 {
  "width": 222, "height": 297,
  "view": {"stroke": null},
  "layer": [
   {"data": {"name": "lines"}, "transform": [{"filter": "datum.p === 'b'"}],
    "mark": {"type": "line", "color": "#3a3a3a", "strokeWidth": 1, "clip": true},
    "encoding": {
     "x": {"field": "x", "type": "quantitative", "scale": {"domain": [29.5, 31.5], "nice": false, "zero": false}, "axis": {"orient": "bottom", "values": [29.5, 30, 30.5, 31, 31.5], "labelExpr": "datum.value == 29.5 || datum.value == 30.5 || datum.value == 31.5 ? format(datum.value, '.1f') + '° N' : ''", "labelFlush": false, "title": null, "tickSize": 4, "labelPadding": -1}},
     "y": {"field": "d", "type": "quantitative", "scale": {"domain": [-5.137, 300], "reverse": true, "nice": false, "zero": false}, "axis": {"orient": "left", "values": [0, 50, 100, 150, 200, 250, 300], "title": "Depth (m)", "titlePadding": 12, "tickSize": 4, "labelPadding": 0}},
     "detail": {"field": "i", "type": "nominal"},
     "order": {"field": "o", "type": "quantitative"}
    }},
   {"data": {"values": [{}]},
    "mark": {"type": "rect", "fillOpacity": 0, "stroke": "#555", "strokeWidth": 1},
    "encoding": {"x": {"datum": 29.5, "type": "quantitative", "axis": null}, "x2": {"datum": 31.5}, "y": {"datum": 0, "type": "quantitative", "axis": null}, "y2": {"datum": 300}}},
   {"data": {"name": "labels"}, "transform": [{"filter": "datum.p === 'b'"}],
    "mark": {"type": "text", "font": "Liberation Sans", "fontSize": 10, "fontWeight": "bold", "fill": "white", "stroke": "white", "strokeWidth": 3},
    "encoding": {"x": {"field": "x", "type": "quantitative", "axis": null}, "y": {"field": "d", "type": "quantitative", "axis": null}, "text": {"field": "t"}, "angle": {"field": "r", "type": "quantitative", "scale": null}}},
   {"data": {"name": "labels"}, "transform": [{"filter": "datum.p === 'b'"}],
    "mark": {"type": "text", "font": "Liberation Sans", "fontSize": 10, "fontWeight": "bold", "fill": "#222"},
    "encoding": {"x": {"field": "x", "type": "quantitative", "axis": null}, "y": {"field": "d", "type": "quantitative", "axis": null}, "text": {"field": "t"}, "angle": {"field": "r", "type": "quantitative", "scale": null}}},
   {"data": {"name": "names"}, "transform": [{"filter": "datum.p === 'b'"}],
    "mark": {"type": "text", "font": "DejaVu Sans", "fontSize": 18, "fill": "#333"},
    "encoding": {
     "x": {"field": "x", "type": "quantitative", "axis": {"orient": "top", "offset": -5, "values": [29.5, 30, 30.5, 31, 31.5], "labels": false, "title": null, "tickSize": 4}},
     "y": {"field": "d", "type": "quantitative", "axis": {"orient": "right", "values": [0, 50, 100, 150, 200, 250, 300], "labels": false, "title": null, "tickSize": 4}},
     "text": {"field": "t"}}}
  ],
  "resolve": {"axis": {"x": "independent", "y": "independent"}}
 },
 {
  "width": 222, "height": 297,
  "view": {"stroke": null},
  "layer": [
   {"data": {"name": "lines"}, "transform": [{"filter": "datum.p === 'c'"}],
    "mark": {"type": "line", "color": "#3a3a3a", "strokeWidth": 1, "clip": true},
    "encoding": {
     "x": {"field": "x", "type": "quantitative", "scale": {"domain": [29.5, 31.5], "nice": false, "zero": false}, "axis": {"orient": "bottom", "values": [29.5, 30, 30.5, 31, 31.5], "labelExpr": "datum.value == 29.5 || datum.value == 30.5 || datum.value == 31.5 ? format(datum.value, '.1f') + '° N' : ''", "labelFlush": false, "title": null, "tickSize": 4, "labelPadding": -1}},
     "y": {"field": "d", "type": "quantitative", "scale": {"domain": [-5.137, 300], "reverse": true, "nice": false, "zero": false}, "axis": {"orient": "left", "values": [0, 50, 100, 150, 200, 250, 300], "title": "Depth (m)", "titlePadding": 12, "tickSize": 4, "labelPadding": 0}},
     "detail": {"field": "i", "type": "nominal"},
     "order": {"field": "o", "type": "quantitative"}
    }},
   {"data": {"values": [{}]},
    "mark": {"type": "rect", "fillOpacity": 0, "stroke": "#555", "strokeWidth": 1},
    "encoding": {"x": {"datum": 29.5, "type": "quantitative", "axis": null}, "x2": {"datum": 31.5}, "y": {"datum": 0, "type": "quantitative", "axis": null}, "y2": {"datum": 300}}},
   {"data": {"name": "labels"}, "transform": [{"filter": "datum.p === 'c'"}],
    "mark": {"type": "text", "font": "Liberation Sans", "fontSize": 10, "fontWeight": "bold", "fill": "white", "stroke": "white", "strokeWidth": 3},
    "encoding": {"x": {"field": "x", "type": "quantitative", "axis": null}, "y": {"field": "d", "type": "quantitative", "axis": null}, "text": {"field": "t"}, "angle": {"field": "r", "type": "quantitative", "scale": null}}},
   {"data": {"name": "labels"}, "transform": [{"filter": "datum.p === 'c'"}],
    "mark": {"type": "text", "font": "Liberation Sans", "fontSize": 10, "fontWeight": "bold", "fill": "#222"},
    "encoding": {"x": {"field": "x", "type": "quantitative", "axis": null}, "y": {"field": "d", "type": "quantitative", "axis": null}, "text": {"field": "t"}, "angle": {"field": "r", "type": "quantitative", "scale": null}}},
   {"data": {"name": "names"}, "transform": [{"filter": "datum.p === 'c'"}],
    "mark": {"type": "text", "font": "DejaVu Sans", "fontSize": 18, "fill": "#333"},
    "encoding": {
     "x": {"field": "x", "type": "quantitative", "axis": {"orient": "top", "offset": -5, "values": [29.5, 30, 30.5, 31, 31.5], "labels": false, "title": null, "tickSize": 4}},
     "y": {"field": "d", "type": "quantitative", "axis": {"orient": "right", "values": [0, 50, 100, 150, 200, 250, 300], "labels": false, "title": null, "tickSize": 4}},
     "text": {"field": "t"}}}
  ],
  "resolve": {"axis": {"x": "independent", "y": "independent"}}
 }
]
}
